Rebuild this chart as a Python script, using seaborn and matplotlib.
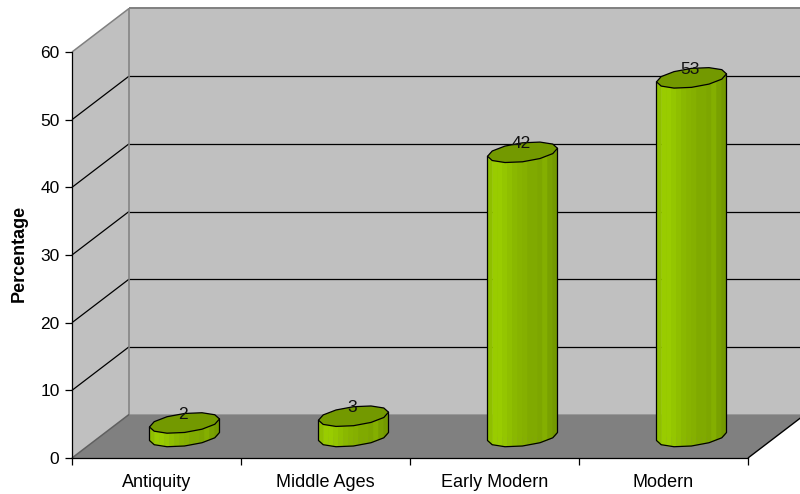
import numpy as np
import pandas as pd
import matplotlib
matplotlib.use("Agg")
import matplotlib.pyplot as plt
from matplotlib.patches import Polygon
from matplotlib.transforms import IdentityTransform, offset_copy
import seaborn as sns

categories = ["Antiquity", "Middle Ages", "Early Modern", "Modern"]
values = [2, 3, 42, 53]
y_ticks = [0, 10, 20, 30, 40, 50, 60]
y_label = "Percentage"

WALL = "#C0C0C0"
FLOOR = "#808080"
EDGE = "#808080"
TOP = "#739900"
BODY = "#8CB800"
STRIPS = ["#8FBF00", "#99CC00", "#99CC00", "#94C600", "#8FBF00", "#8AB800", "#87B300",
          "#85B000", "#80AA00", "#80AA00", "#7DA600", "#84AF00", "#79A100", "#739900"]
DEPTH = (57, 43.5)
BAR_OFF = (28, 21.5)
RX, RY, TILT = 35, 9.5, 4
FS = 13

sns.set_theme(style="white", rc={"axes.facecolor": "none", "figure.facecolor": "white"})
plt.rcParams["font.family"] = ["Liberation Sans", "DejaVu Sans"]

fig = plt.figure(figsize=(8, 4.94), dpi=100)
ax = fig.add_axes([72 / 800, 36 / 494, 676 / 800, 406 / 494])
df = pd.DataFrame({"period": categories, "pct": values})
sns.barplot(data=df, x="period", y="pct", order=categories, color=BODY, saturation=1,
            width=60 / 169, ax=ax, zorder=4, linewidth=0, edgecolor="none")
ax.set_xlim(-0.5, 3.5)
ax.set_ylim(0, 60)

# cylinders: the seaborn bars are shifted into the chart depth, then shaded below
bar_tf = offset_copy(ax.transData, fig=fig, x=BAR_OFF[0], y=BAR_OFF[1], units="dots")
for patch in list(ax.patches):
    patch.set_transform(bar_tf)
    patch.set_clip_on(False)

def pt(x, y, dx=0.0, dy=0.0):
    px = ax.transData.transform((x, y))
    return float(px[0] + dx), float(px[1] + dy)

ident = IdentityTransform()
def poly(points, **kw):
    kw.setdefault("clip_on", False)
    p = Polygon(np.array(points), closed=True, transform=ident, **kw)
    ax.add_artist(p)
    return p
def seg(a, b, **kw):
    ax.plot([a[0], b[0]], [a[1], b[1]], transform=ident, clip_on=False, solid_capstyle="butt", **kw)

dx, dy = DEPTH
x0, x1 = -0.5, 3.5
# walls and floor
poly([pt(x0, 0), pt(x0, 60), pt(x0, 60, dx, dy), pt(x0, 0, dx, dy)], fc=WALL, ec="none", zorder=0.5)
poly([pt(x0, 0, dx, dy), pt(x0, 60, dx, dy), pt(x1, 60, dx, dy), pt(x1, 0, dx, dy)], fc=WALL, ec="none", zorder=0.5)
poly([pt(x0, 0), pt(x1, 0), pt(x1, 0, dx, dy), pt(x0, 0, dx, dy)], fc=FLOOR, ec="none", zorder=0.6)
# grid lines on both walls
for t in y_ticks[1:-1]:
    seg(pt(x0, t), pt(x0, t, dx, dy), color="black", lw=0.9, zorder=1.1)
    seg(pt(x0, t, dx, dy), pt(x1, t, dx, dy), color="black", lw=0.9, zorder=1.1)
# gray wall edges
seg(pt(x0, 60), pt(x0, 60, dx, dy), color=EDGE, lw=1.1, zorder=1.2)
seg(pt(x0, 60, dx, dy), pt(x1, 60, dx, dy), color=EDGE, lw=1.4, zorder=1.2)
seg(pt(x0, 0, dx, dy), pt(x0, 60, dx, dy), color=EDGE, lw=1.1, zorder=1.2)
seg(pt(x0, 0), pt(x0, 0, dx, dy), color="#606060", lw=1.1, zorder=1.2)
seg(pt(x0, 0, dx, dy), pt(x1, 0, dx, dy), color=EDGE, lw=1.0, zorder=1.2)
seg(pt(x1, 0), pt(x1, 0, dx, dy), color="black", lw=1.0, zorder=1.2)

def ring(cx, cy):
    t = np.linspace(0, 2 * np.pi, 13)[:-1]
    return np.column_stack([cx + RX * np.cos(t), cy + TILT * np.cos(t) + RY * np.sin(t)])

def lower(cx, cy, xs):
    t = np.arccos(np.clip((xs - cx) / RX, -1, 1))
    return cy + TILT * np.cos(t) - RY * np.sin(t)

for i, v in enumerate(values):
    bx, by = pt(i, 0, *BAR_OFF)
    tx, ty = pt(i, v, *BAR_OFF)
    edges = np.linspace(bx - RX, bx + RX, len(STRIPS) + 1)
    for j, c in enumerate(STRIPS):
        xs = np.linspace(edges[j], edges[j + 1], 4)
        off_b = lower(bx, by, xs)
        off_t = lower(tx, ty, xs)
        pts = list(zip(xs, off_b)) + list(zip(xs[::-1], off_t[::-1]))
        poly(pts, fc=c, ec=c, lw=0.3, zorder=5)
    xs = bx - RX * np.cos(np.linspace(0, np.pi, 7))
    outline = [(bx - RX, ty - TILT)] + list(zip(xs, lower(bx, by, xs))) + [(bx + RX, ty + TILT)]
    ax.plot(*zip(*outline), transform=ident, clip_on=False, color="black", lw=0.9, zorder=6)
    poly(ring(tx, ty), fc=TOP, ec="black", lw=0.9, zorder=7, joinstyle="round")
    ax.annotate(str(v), xy=(i, v), xycoords="data",
                xytext=(BAR_OFF[0] - 1.5, BAR_OFF[1] + 8.5), textcoords="offset pixels",
                ha="center", va="center", fontsize=12.5, color="#111111", zorder=8, annotation_clip=False)

# axes
ax.set_xlabel("")
ax.set_ylabel(y_label, fontsize=FS, fontweight="bold", color="black")
ax.yaxis.set_label_coords(-0.066, 0.505)
ax.set_yticks(y_ticks)
ax.set_xticks(np.arange(-0.5, 4, 1))
ax.set_xticklabels([])
ax.set_xticks(range(len(categories)), labels=categories, minor=True)
ax.tick_params(axis="x", which="major", length=5, width=0.9, color="black", bottom=True)
ax.tick_params(axis="x", which="minor", length=0, pad=11.5, labelsize=FS, labelcolor="black", bottom=False)
ax.tick_params(axis="y", length=5, width=0.9, color="black", left=True, labelsize=12.5, labelcolor="black", pad=4)
for s in ("top", "right"):
    ax.spines[s].set_visible(False)
for s in ("left", "bottom"):
    ax.spines[s].set_color("black")
    ax.spines[s].set_linewidth(0.9)
    ax.spines[s].set_zorder(3)

fig.savefig("out.png", dpi=100)
